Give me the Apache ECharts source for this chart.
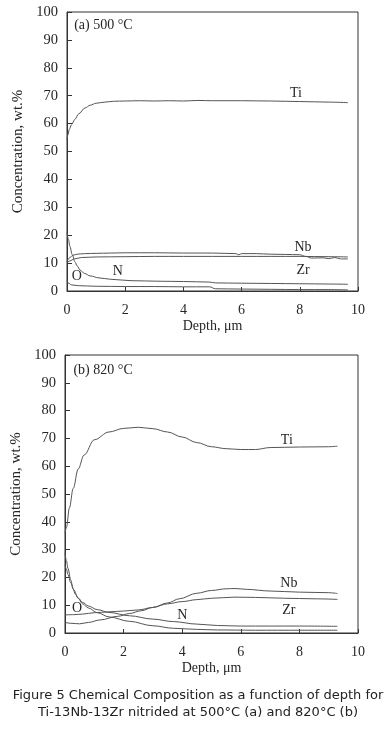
<!DOCTYPE html>
<html><head><meta charset="utf-8">
<script src="https://cdn.jsdelivr.net/npm/echarts@6/dist/echarts.min.js"></script>
<style>html,body{margin:0;padding:0;background:#fff}#c{width:386px;height:730px}</style>
</head><body><div id="c"></div><script>
// ---- data (depth in µm, concentration wt.%) ----
const xTicks = [0, 2, 4, 6, 8, 10];
const yTicks = [0, 10, 20, 30, 40, 50, 60, 70, 80, 90, 100];

// (a) 500 °C
const tiA = [[0,54],[0.03,56],[0.08,58],[0.15,59.5],[0.27,61.5],[0.4,63.5],[0.62,65.6],[0.8,66.6],[1.0,67.3],[1.3,67.7],[1.6,68],[2,68.1],[2.5,68.2],[3,68.1],[3.5,68.2],[4,68.1],[4.5,68.3],[5,68.2],[6,68.2],[7,68.1],[8,67.9],[9,67.7],[9.65,67.5]];
const nbA = [[0,10.5],[0.1,12],[0.2,12.8],[0.35,13.2],[0.6,13.4],[1,13.5],[1.5,13.6],[2,13.7],[3,13.7],[4,13.6],[5,13.6],[5.8,13.4],[5.9,13.0],[6.0,13.4],[6.5,13.4],[7,13.2],[7.5,13.1],[8,13.0],[8.2,12.4],[8.4,11.8],[8.8,11.9],[9,11.6],[9.2,12],[9.4,11.5],[9.65,11.5]];
const zrA = [[0,10],[0.1,10.8],[0.25,11.5],[0.5,12],[1,12.2],[2,12.3],[3,12.4],[4,12.4],[5,12.4],[6,12.4],[7,12.4],[8,12.4],[9,12.3],[9.65,12.2]];
const nA  = [[0,21],[0.05,18.5],[0.1,16],[0.18,13],[0.27,10.5],[0.35,9],[0.45,7.5],[0.6,6.3],[0.8,5.4],[1.1,4.7],[1.5,4.2],[2.2,3.7],[3.2,3.5],[4,3.4],[4.9,3.2],[5.1,2.9],[6,2.8],[7,2.7],[8,2.6],[9,2.5],[9.65,2.4]];
const oA  = [[0,3.8],[0.05,2.8],[0.15,2.2],[0.4,1.9],[1,1.7],[2,1.6],[3,1.6],[4,1.5],[4.9,1.5],[5.1,0.8],[6,0.7],[7,0.6],[8,0.5],[9,0.5],[9.65,0.4]];

// (b) 820 °C
const tiB = [[0,36],[0.05,38],[0.15,45],[0.28,52],[0.45,59],[0.65,64],[1.0,69.5],[1.5,72.3],[2.0,73.6],[2.5,74],[3.0,73.5],[3.5,72.3],[4.0,70.5],[4.5,68.5],[5.0,67],[5.5,66.3],[6.0,66],[6.5,66],[7.0,66.7],[8.0,66.9],[9.0,67],[9.3,67.2]];
const nbB = [[0,3.8],[0.2,3.5],[0.5,3.3],[0.8,3.8],[1.2,4.7],[1.8,6.0],[2.2,7.0],[2.6,8.0],[3,9.2],[3.5,10.8],[3.9,12.3],[4.5,14.3],[5,15.3],[5.5,15.9],[5.8,16],[6.2,15.7],[7,15.1],[8,14.7],[9,14.5],[9.3,14.2]];
const zrB = [[0,6.5],[0.3,6.6],[0.6,6.8],[1.0,7.3],[1.5,7.6],[2,7.9],[2.5,8.3],[3,9.2],[3.5,10.5],[4,11.3],[4.5,12.0],[5,12.5],[5.8,12.9],[6.5,12.8],[7.5,12.5],[8.5,12.3],[9.3,12.1]];
const nB  = [[0,28.8],[0.05,26],[0.1,23.3],[0.2,19],[0.27,16],[0.35,14],[0.45,12.6],[0.6,11],[0.8,9.7],[1.1,8.4],[1.5,7.4],[2.2,6.2],[3,5],[3.7,4.1],[4.5,3.2],[5.2,2.7],[6,2.5],[7,2.5],[8,2.5],[9.3,2.4]];
const oB  = [[0,24.5],[0.05,23],[0.1,21],[0.2,18],[0.3,15.5],[0.45,12.5],[0.6,10.5],[0.8,9],[1.1,7.3],[1.5,5.8],[2.2,4.2],[3,2.6],[3.7,1.7],[4.5,1.3],[5.2,1.1],[6.5,1.0],[8,1.0],[9.3,1.0]];

// annotation text and anchor points (data units)
const panelTitles = [["(a) 500 °C", 0, 1.25, 95.3], ["(b) 820 °C", 1, 1.3, 94.6]];
const seriesLabels = [
  ["Ti", 0, 7.87, 71.0], ["Nb", 0, 8.11, 15.5], ["Zr", 0, 8.11, 7.5], ["O", 0, 0.34, 5.4], ["N", 0, 1.75, 6.9],
  ["Ti", 1, 7.57, 69.4], ["Nb", 1, 7.64, 17.9], ["Zr", 1, 7.64, 8.3], ["O", 1, 0.41, 8.9], ["N", 1, 4.0, 6.5]
];
const caption = ["Figure 5 Chemical Composition as a function of depth for", "Ti-13Nb-13Zr nitrided at 500°C (a) and 820°C (b)"];

// ---- chart ----
const serif = "'Liberation Serif', 'DejaVu Serif', serif";
const ink = '#262626';
const lineCol = '#555555';
const chart = echarts.init(document.getElementById('c'), null, {renderer: 'canvas'});

function xAx(i) {
  return {
    type: 'value', gridIndex: i, min: xTicks[0], max: xTicks[xTicks.length - 1], interval: xTicks[1] - xTicks[0],
    name: 'Depth, μm', nameLocation: 'middle', nameGap: 28,
    nameTextStyle: {fontFamily: serif, fontSize: 14, color: ink},
    axisLine: {show: true, lineStyle: {color: '#333', width: 1}},
    axisTick: {show: true, inside: true, length: 4, lineStyle: {color: '#333'}},
    axisLabel: {fontFamily: serif, fontSize: 14, color: ink, margin: 12},
    splitLine: {show: false}
  };
}
function yAx(i) {
  return {
    type: 'value', gridIndex: i, min: yTicks[0], max: yTicks[yTicks.length - 1], interval: yTicks[1] - yTicks[0],
    name: 'Concentration, wt.%', nameLocation: 'middle', nameGap: 38,
    nameTextStyle: {fontFamily: serif, fontSize: 15, color: ink},
    axisLine: {show: true, lineStyle: {color: '#333', width: 1}},
    axisTick: {show: true, inside: true, length: 5, lineStyle: {color: '#333'}},
    axisLabel: {fontFamily: serif, fontSize: 14.5, color: ink, margin: 9},
    splitLine: {show: false}
  };
}
function ln(data, i) {
  return {
    type: 'line', xAxisIndex: i, yAxisIndex: i, data: data, showSymbol: false, symbol: 'none',
    smooth: 0.35, smoothMonotone: 'x', silent: true, animation: false,
    lineStyle: {color: lineCol, width: 1}
  };
}

chart.setOption({
  animation: false,
  backgroundColor: '#fff',
  grid: [
    {left: 67, top: 12, width: 291, height: 279, show: true, borderColor: '#333', borderWidth: 1},
    {left: 65, top: 355, width: 293, height: 278, show: true, borderColor: '#333', borderWidth: 1}
  ],
  xAxis: [xAx(0), xAx(1)],
  yAxis: [yAx(0), yAx(1)],
  series: [ln(tiA, 0), ln(nbA, 0), ln(zrA, 0), ln(nA, 0), ln(oA, 0),
           ln(tiB, 1), ln(nbB, 1), ln(zrB, 1), ln(nB, 1), ln(oB, 1)]
});

const g = [];
panelTitles.forEach(function (t) {
  const p = chart.convertToPixel({gridIndex: t[1]}, [t[2], t[3]]);
  g.push({type: 'text', x: p[0], y: p[1], style: {text: t[0], fill: ink, font: '14px ' + serif, textAlign: 'center', textVerticalAlign: 'middle'}});
});
seriesLabels.forEach(function (t) {
  const p = chart.convertToPixel({gridIndex: t[1]}, [t[2], t[3]]);
  g.push({type: 'text', x: p[0], y: p[1], style: {text: t[0], fill: ink, font: '14px ' + serif, textAlign: 'center', textVerticalAlign: 'middle'}});
});
caption.forEach(function (s, k) {
  g.push({type: 'text', x: 198, y: 696 + k * 17, style: {text: s, fill: '#222', font: "13px 'DejaVu Sans', sans-serif", textAlign: 'center', textVerticalAlign: 'middle'}});
});
chart.setOption({graphic: g});
</script></body></html>
